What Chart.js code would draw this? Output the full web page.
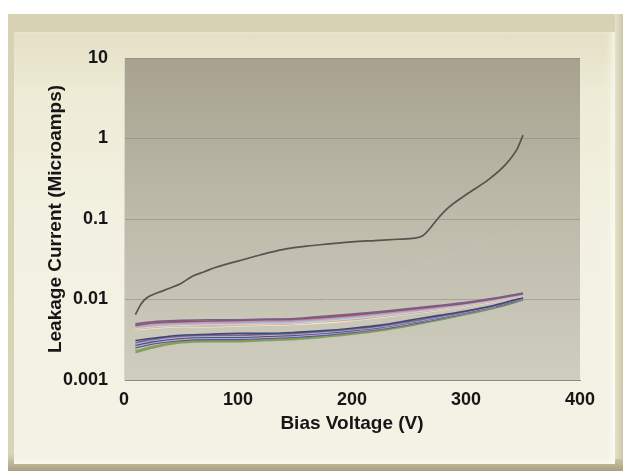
<!DOCTYPE html>
<html>
<head>
<meta charset="utf-8">
<script src="https://cdn.jsdelivr.net/npm/chart.js@4.4.1/dist/chart.umd.min.js"></script>
<style>
  html, body { margin: 0; padding: 0; background: #ffffff; width: 623px; height: 471px; overflow: hidden; }
  #frame {
    position: absolute; left: 8px; top: 14px; width: 615px; height: 457px;
    background: linear-gradient(to bottom, #d8d2b4 0px, #d9d3b7 440px, #b9b393 451px, #a9a384 457px);
  }
  #panel {
    position: absolute; left: 6px; top: 18px; width: 601px; height: 432px;
    background: linear-gradient(to bottom, #e4e0c5 0px, #eeebd6 60px, #f3f1e2 200px, #f4f2e4 432px);
    box-shadow: -4px -2px 6px rgba(255,255,250,0.6) inset;
  }
  #frameRight {
    position: absolute; right: 0; top: 14px; width: 8px; height: 445px;
    background: linear-gradient(to right, #e6e2cb, #cdc7aa);
  }
  #chart { position: absolute; left: 0; top: 0; }
</style>
</head>
<body>
<div id="frame"><div id="panel"></div></div>
<div id="frameRight"></div>
<canvas id="chart" width="623" height="471"></canvas>
<script>
// Bias voltage sample points (V) shared by the device sweeps
const voltages = [10, 25, 50, 75, 100, 125, 150, 175, 200, 225, 250, 275, 300, 325, 350];

// Higher-leakage group of devices (microamps)
const groupA = [
  [0.0050,0.0053,0.0055,0.0056,0.0056,0.0057,0.0058,0.0062,0.0066,0.0071,0.0077,0.0084,0.0092,0.0104,0.0120],
  [0.0048,0.0051,0.0053,0.0054,0.0055,0.0056,0.0057,0.0060,0.0064,0.0069,0.0075,0.0082,0.0090,0.0102,0.0118],
  [0.0047,0.0050,0.0052,0.0053,0.0053,0.0054,0.0055,0.0058,0.0062,0.0067,0.0073,0.0080,0.0089,0.0101,0.0117],
  [0.0046,0.0048,0.0050,0.0051,0.0052,0.0053,0.0054,0.0057,0.0061,0.0066,0.0072,0.0079,0.0088,0.0100,0.0116],
  [0.0045,0.0047,0.0049,0.0050,0.0050,0.0051,0.0052,0.0055,0.0059,0.0064,0.0070,0.0077,0.0086,0.0098,0.0114],
  [0.0044,0.0046,0.0048,0.0049,0.0049,0.0050,0.0051,0.0054,0.0058,0.0063,0.0069,0.0076,0.0085,0.0097,0.0113],
  [0.0043,0.0045,0.0047,0.0047,0.0048,0.0049,0.0050,0.0053,0.0056,0.0061,0.0067,0.0074,0.0083,0.0095,0.0111],
  [0.0042,0.0044,0.0046,0.0046,0.0047,0.0048,0.0049,0.0051,0.0055,0.0060,0.0066,0.0073,0.0082,0.0094,0.0110]
];
const groupAColors = ['#7b5d86','#8c5766','#c48fb0','#b9a7cf','#a7c6d8','#e8ddb0','#d6a6b2','#f0ecc4'];

// Lower-leakage group of devices (microamps)
const groupB = [
  [0.0031,0.0033,0.0036,0.0037,0.0038,0.0038,0.0039,0.0041,0.0044,0.0048,0.0055,0.0063,0.0072,0.0085,0.0105],
  [0.0029,0.0032,0.0035,0.0036,0.0036,0.0037,0.0038,0.0040,0.0043,0.0047,0.0053,0.0061,0.0071,0.0084,0.0104],
  [0.0028,0.0031,0.0034,0.0035,0.0035,0.0036,0.0037,0.0039,0.0042,0.0046,0.0052,0.0060,0.0070,0.0083,0.0103],
  [0.0027,0.0030,0.0033,0.0034,0.0034,0.0035,0.0036,0.0038,0.0041,0.0045,0.0051,0.0059,0.0069,0.0082,0.0102],
  [0.0026,0.0029,0.0032,0.0033,0.0033,0.0034,0.0035,0.0037,0.0040,0.0044,0.0050,0.0058,0.0068,0.0081,0.0101],
  [0.0025,0.0028,0.0031,0.0032,0.0032,0.0033,0.0034,0.0036,0.0039,0.0043,0.0049,0.0057,0.0067,0.0080,0.0100],
  [0.0023,0.0026,0.0030,0.0031,0.0031,0.0032,0.0033,0.0035,0.0038,0.0042,0.0048,0.0056,0.0066,0.0079,0.0099],
  [0.0022,0.0025,0.0029,0.0030,0.0030,0.0031,0.0032,0.0034,0.0037,0.0041,0.0047,0.0055,0.0065,0.0078,0.0098]
];
const groupBColors = ['#3f4877','#84628f','#9fbad0','#5c4a72','#b6a5cc','#505c93','#8d9a58','#7aa05a'];

// Faint drifting device
const driftVoltages = [130, 170, 225, 290, 350];
const driftCurrent  = [0.0058, 0.0091, 0.0178, 0.038, 0.079];

// Device with early breakdown
const breakdownVoltages = [10,15,20,30,40,50,60,70,80,90,100,120,140,160,180,200,220,240,255,262,268,275,285,300,320,335,345,350];
const breakdownCurrent  = [0.0065,0.0088,0.0105,0.0122,0.0138,0.0158,0.0195,0.022,0.025,0.0275,0.030,0.036,0.042,0.046,0.049,0.052,0.054,0.056,0.058,0.062,0.075,0.10,0.14,0.20,0.31,0.48,0.75,1.1];

// Axis ticks
const xTicks = [0, 100, 200, 300, 400];
const yTickValues = [0.001, 0.01, 0.1, 1, 10];
const yTickLabels = ['0.001', '0.01', '0.1', '1', '10'];

const toPoints = (xs, ys) => xs.map((x, i) => ({ x: x, y: ys[i] }));

const datasets = [];
datasets.push({ data: toPoints(breakdownVoltages, breakdownCurrent), borderColor: '#55544e', borderWidth: 1.7 });
groupA.forEach((s, i) => datasets.push({ data: toPoints(voltages, s), borderColor: groupAColors[i], borderWidth: 1.6 }));
groupB.forEach((s, i) => datasets.push({ data: toPoints(voltages, s), borderColor: groupBColors[i], borderWidth: 1.6 }));
datasets.push({ data: toPoints(driftVoltages, driftCurrent), borderColor: 'rgba(215,185,195,0.55)', borderWidth: 1.2 });

const plotBackground = {
  id: 'plotBackground',
  beforeDraw(chart) {
    const { ctx, chartArea: a } = chart;
    const g = ctx.createLinearGradient(0, a.top, 0, a.bottom);
    g.addColorStop(0, '#a7a28f');
    g.addColorStop(0.5, '#bebbab');
    g.addColorStop(1, '#cfcdbf');
    ctx.save();
    ctx.fillStyle = g;
    ctx.fillRect(a.left, a.top, a.right - a.left, a.bottom - a.top);
    ctx.restore();
  }
};

const tickFont = { family: '"Liberation Sans", Arial, sans-serif', size: 18, weight: 'bold' };
const titleFont = { family: '"Liberation Sans", Arial, sans-serif', size: 19, weight: 'bold' };

new Chart(document.getElementById('chart'), {
  type: 'line',
  data: { datasets },
  plugins: [plotBackground],
  options: {
    responsive: false,
    animation: false,
    devicePixelRatio: 1,
    layout: { padding: { left: 0, top: 58, right: 43, bottom: 0 } },
    elements: {
      point: { radius: 0 },
      line: { cubicInterpolationMode: 'monotone', fill: false }
    },
    plugins: { legend: { display: false }, tooltip: { enabled: false } },
    scales: {
      x: {
        type: 'linear', min: 0, max: 400,
        afterBuildTicks: s => { s.ticks = xTicks.map(v => ({ value: v })); },
        afterFit: s => { s.height = 91; },
        ticks: { color: '#161616', font: tickFont, padding: 9, maxRotation: 0 },
        grid: { display: false, drawTicks: false },
        border: { display: true, color: '#8e8b7d', width: 1 },
        title: { display: true, text: 'Bias Voltage (V)', color: '#161616', font: titleFont, padding: { top: 0, bottom: 36 } }
      },
      y: {
        type: 'logarithmic', min: 0.001, max: 10,
        afterBuildTicks: s => { s.ticks = yTickValues.map(v => ({ value: v })); },
        afterFit: s => { s.width = 124; },
        ticks: {
          color: '#161616', font: tickFont, padding: 16,
          callback: (v) => { const i = yTickValues.findIndex(t => Math.abs(t - v) / t < 1e-6); return i >= 0 ? yTickLabels[i] : ''; }
        },
        grid: { color: 'rgba(135,131,115,0.5)', lineWidth: 1, drawTicks: false },
        border: { display: true, color: '#d9d6c8', width: 1 },
        title: { display: true, text: 'Leakage Current (Microamps)', color: '#161616', font: titleFont, padding: { top: 44, bottom: 0 } }
      }
    }
  }
});
</script>
</body>
</html>
